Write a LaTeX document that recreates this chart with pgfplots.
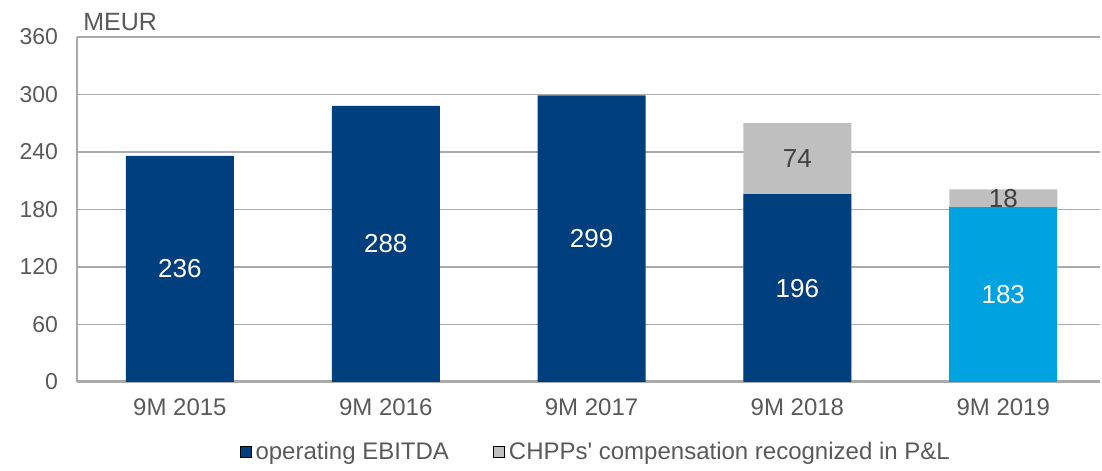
\documentclass[border=0pt]{standalone}
\usepackage{pgfplots}
\pgfplotsset{compat=1.18}
\usepackage{fontspec}
\setmainfont{Liberation Sans}
\definecolor{ebitda}{RGB}{0,63,125}
\definecolor{ebitdalight}{RGB}{0,163,224}
\definecolor{chpp}{RGB}{191,191,191}
\definecolor{txt}{RGB}{89,89,89}
\definecolor{gridc}{RGB}{170,170,170}

\begin{document}
\begin{tikzpicture}
\begin{axis}[name=ax,
  scale only axis, width=511.5pt, height=172.5pt,
  xmin=-0.5, xmax=4.47, ymin=0, ymax=360,
  ytick={0,60,...,360}, xtick={0,1,2,3,4},
  xticklabels={9M 2015, 9M 2016, 9M 2017, 9M 2018, 9M 2019},
  /pgf/number format/assume math mode=true,
  axis x line*=bottom, axis y line*=left,
  x axis line style={draw=gridc, line width=1.5pt, -},
  y axis line style={draw=gridc, line width=0.6pt, -},
  major tick length=0pt,
  ymajorgrids, grid style={gridc, line width=0.6pt},
  tick label style={font=\fontsize{11.5}{13}\selectfont, text=txt},
  xticklabel style={font=\fontsize{12}{14}\selectfont, yshift=-5pt},
  yticklabel style={xshift=-6pt},
  bar width=54pt,
  legend style={at={(0.508,-0.203)}, anchor=center, legend columns=2,
    draw=none, fill=none, font=\fontsize{12}{14}\selectfont, text=txt,
    /tikz/every even column/.append style={column sep=20pt}},
  legend cell align=left,
  legend image code/.code={\fill[#1] (0pt,-2.8pt) rectangle (5.6pt,2.8pt);},
]
% totals drawn first in grey, EBITDA on top
\addplot[ybar, bar shift=0pt, fill=chpp, draw=none, forget plot] coordinates {(3,270) (4,201)};
\addplot[ybar, bar shift=0pt, fill=ebitda, draw=none, forget plot] coordinates {(0,236) (1,288) (2,299) (3,196)};
\addplot[ybar, bar shift=0pt, fill=ebitdalight, draw=none, forget plot] coordinates {(4,183)};
% value labels, centred in each segment
\addplot[only marks, mark=none, forget plot, point meta=explicit symbolic,
  nodes near coords, every node near coord/.append style={anchor=center, text=white, font=\fontsize{13}{15}\selectfont}]
  coordinates {(0,118)[236] (1,144)[288] (2,149.5)[299] (3,98)[196] (4,91.5)[183]};
\addplot[only marks, mark=none, forget plot, point meta=explicit symbolic,
  nodes near coords, every node near coord/.append style={anchor=center, text=black!75, font=\fontsize{13}{15}\selectfont}]
  coordinates {(3,233)[74] (4,191.5)[18]};
\addlegendimage{fill=ebitda}
\addlegendimage{fill=chpp}
\legend{operating EBITDA, CHPPs\textquotesingle\ compensation recognized in P\&L}
\end{axis}
\node[anchor=south west, text=txt, font=\fontsize{12.5}{14}\selectfont, inner sep=0pt] at ([xshift=3pt,yshift=3pt]ax.north west) {MEUR};
\path ([xshift=-38.5pt,yshift=-41.5pt]ax.south west) rectangle ([xshift=1pt,yshift=18.5pt]ax.north east);
\end{tikzpicture}
\end{document}
